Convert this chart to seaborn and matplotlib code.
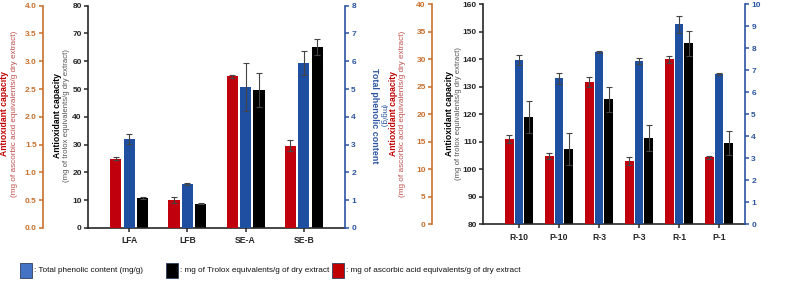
import pandas as pd
import matplotlib
matplotlib.use('Agg')
import matplotlib.pyplot as plt
import seaborn as sns
from matplotlib.patches import Rectangle

# Panel A
samples_a = ['LFA', 'LFB', 'SE-A', 'SE-B']
ascorbic_a = [1.25, 0.50, 2.73, 1.48]
ascorbic_a_err = [0.03, 0.05, 0.03, 0.10]
phenolic_a = [3.21, 1.59, 5.08, 5.94]
phenolic_a_err = [0.18, 0.03, 0.86, 0.44]
trolox_a = [10.8, 8.7, 49.6, 65.1]
trolox_a_err = [0.3, 0.2, 6.2, 2.9]

# Panel B
samples_b = ['R-10', 'P-10', 'R-3', 'P-3', 'R-1', 'P-1']
ascorbic_b = [15.45, 12.4, 25.85, 11.5, 30.0, 12.15]
ascorbic_b_err = [0.75, 0.5, 0.85, 0.8, 0.65, 0.25]
phenolic_b = [7.47, 6.64, 7.84, 7.42, 9.09, 6.82]
phenolic_b_err = [0.24, 0.25, 0.04, 0.15, 0.38, 0.05]
trolox_b = [118.9, 107.4, 125.5, 111.3, 145.8, 109.6]
trolox_b_err = [5.8, 5.7, 4.5, 4.8, 4.6, 4.5]

series = ['ascorbic', 'phenolic', 'trolox']
RED, BLUE, BLACK = '#C0000C', '#1F4FA0', '#000000'
ORANGE = '#C8702E'
AXBLUE = '#2C55A2'
palette = {'ascorbic': RED, 'phenolic': BLUE, 'trolox': BLACK}

sns.set_style('white')
plt.rcParams['font.family'] = ['Liberation Sans', 'DejaVu Sans']

W, H = 787, 294
fig = plt.figure(figsize=(W / 100, H / 100), dpi=100)


def fx(px):
    return px / W


def fy(py):
    return 1 - py / H


def bars(ax, samples, vals, errs, name, width, gap):
    # all three series go in so the dodge slots stay the same on every axis;
    # the ones belonging to the other axes are zero height
    rows = []
    for s in series:
        for smp, v in zip(samples, vals):
            rows.append({'sample': smp, 'series': s, 'value': v if s == name else 0.0})
    df = pd.DataFrame(rows)
    sns.barplot(data=df, x='sample', y='value', hue='series', order=samples,
                hue_order=series, palette=palette, saturation=1, width=width,
                gap=gap, errorbar=None, legend=False, ax=ax, linewidth=0)
    pats = [p for p in ax.patches if p.get_height() > 0]
    xs = [p.get_x() + p.get_width() / 2 for p in pats]
    ax.errorbar(xs, vals, yerr=errs, fmt='none', ecolor='#444444',
                elinewidth=0.8, capsize=2, capthick=0.8, zorder=5)
    ax.set_ylabel('')
    ax.set_xlabel('')


def panel(rect, samples, asc, asc_e, phe, phe_e, tro, tro_e,
          tro_lim, tro_step, asc_lim, asc_step, asc_fmt, phe_lim,
          xlim, width, gap, asc_offset):
    ax = fig.add_axes(rect)
    ax_asc = ax.twinx()
    ax_phe = ax.twinx()

    bars(ax_asc, samples, asc, asc_e, 'ascorbic', width, gap)
    bars(ax_phe, samples, phe, phe_e, 'phenolic', width, gap)
    bars(ax, samples, tro, tro_e, 'trolox', width, gap)

    for a in (ax, ax_asc, ax_phe):
        a.set_xlim(*xlim)
        for s in a.spines.values():
            s.set_visible(False)

    # trolox axis (primary)
    ax.set_ylim(*tro_lim)
    ax.set_yticks(range(tro_lim[0], tro_lim[1] + 1, tro_step))
    ax.spines['left'].set_visible(True)
    ax.spines['bottom'].set_visible(True)
    ax.spines['left'].set_linewidth(1.2)
    ax.spines['bottom'].set_linewidth(1.2)
    ax.tick_params(axis='y', left=True, length=3, width=1.1, pad=1.5,
                   labelsize=6, direction='out')
    ax.tick_params(axis='x', bottom=True, length=3, width=1.1, pad=3,
                   labelsize=6.2, direction='out')
    for t in ax.get_yticklabels() + ax.get_xticklabels():
        t.set_fontweight('bold')

    # ascorbic axis, offset to the left
    ax_asc.set_ylim(*asc_lim)
    vals = [asc_lim[0] + i * asc_step for i in range(int(round((asc_lim[1] - asc_lim[0]) / asc_step)) + 1)]
    ax_asc.set_yticks(vals)
    ax_asc.set_yticklabels([asc_fmt.format(v) for v in vals])
    ax_asc.yaxis.set_ticks_position('left')
    ax_asc.yaxis.set_label_position('left')
    ax_asc.spines['left'].set_visible(True)
    ax_asc.spines['left'].set_position(('outward', asc_offset))
    ax_asc.spines['left'].set_color(ORANGE)
    ax_asc.spines['left'].set_linewidth(1.2)
    ax_asc.tick_params(axis='y', left=True, right=False, labelleft=True,
                       labelright=False, length=3, width=1.1, pad=1.5,
                       labelsize=6, colors=ORANGE, direction='out')

    # phenolic axis, right
    ax_phe.set_ylim(*phe_lim)
    ax_phe.set_yticks(range(phe_lim[0], phe_lim[1] + 1))
    ax_phe.spines['right'].set_visible(True)
    ax_phe.spines['right'].set_color(AXBLUE)
    ax_phe.spines['right'].set_linewidth(1.2)
    ax_phe.tick_params(axis='y', right=True, length=3, width=1.1, pad=1.5,
                       labelsize=6, colors=AXBLUE, direction='out')
    for t in ax_asc.get_yticklabels() + ax_phe.get_yticklabels():
        t.set_fontweight('bold')
    return ax


panel([fx(88), fy(228), fx(345) - fx(88), fy(5.7) - fy(228)],
      samples_a, ascorbic_a, ascorbic_a_err, phenolic_a, phenolic_a_err,
      trolox_a, trolox_a_err, (0, 80), 10, (0, 4), 0.5, '{:.1f}', (0, 8),
      (-0.707, 3.707), 0.69, 0.17, 32.4)

panel([fx(483), fy(224.3), fx(745) - fx(483), fy(4.3) - fy(224.3)],
      samples_b, ascorbic_b, ascorbic_b_err, phenolic_b, phenolic_b_err,
      trolox_b, trolox_b_err, (80, 160), 10, (0, 40), 5, '{:.0f}', (0, 10),
      (-0.9, 5.65), 0.72, 0.12, 36.7)

# axis titles
TITLE_RED = '#C00000'
SUB_RED = '#C0504D'
SUB_GREY = '#555555'


def ylab(x, y, bold, sub, color, subcolor, subx, rot=90, bsize=6.2, ssize=5.6):
    fig.text(fx(x), fy(y), bold, rotation=rot, ha='center', va='center',
             fontsize=bsize, fontweight='bold', color=color)
    fig.text(fx(subx), fy(y), sub, rotation=rot, ha='center', va='center',
             fontsize=ssize, color=subcolor)


ylab(5, 114, 'Antioxidant capacity',
     '(mg of ascorbic acid equivalents/g dry extract)', TITLE_RED, SUB_RED, 15,
     ssize=5.9)
ylab(57, 116, 'Antioxidant capacity',
     '(mg of trolox equivalents/g dry extract)', BLACK, SUB_GREY, 66)
ylab(375, 116, 'Total phenolic content', '(mg/g)', AXBLUE, AXBLUE, 383,
     rot=-90, bsize=6.4, ssize=5.8)
ylab(393, 114, 'Antioxidant capacity',
     '(mg of ascorbic acid equivalents/g dry extract)', TITLE_RED, SUB_RED, 402,
     ssize=5.9)
ylab(449, 114, 'Antioxidant capacity',
     '(mg of trolox equivalents/g dry extract)', BLACK, SUB_GREY, 458)

# legend row
legend_items = [
    (20, '#4472C4', ': Total phenolic content (mg/g)'),
    (166, '#000000', ': mg of Trolox equivalents/g of dry extract'),
    (332, '#C00000', ': mg of ascorbic acid equivalents/g of dry extract'),
]
for x0, col, label in legend_items:
    fig.add_artist(Rectangle((fx(x0), fy(278)), 12 / W, 15 / H,
                             transform=fig.transFigure, facecolor=col,
                             edgecolor='#2F3F5F', linewidth=0.6))
    fig.text(fx(x0 + 13.5), fy(270.5), label, ha='left', va='center',
             fontsize=5.9, family=['Liberation Sans Narrow', 'Liberation Sans', 'DejaVu Sans'],
             color='#111111')

fig.savefig('out.png', dpi=100)
